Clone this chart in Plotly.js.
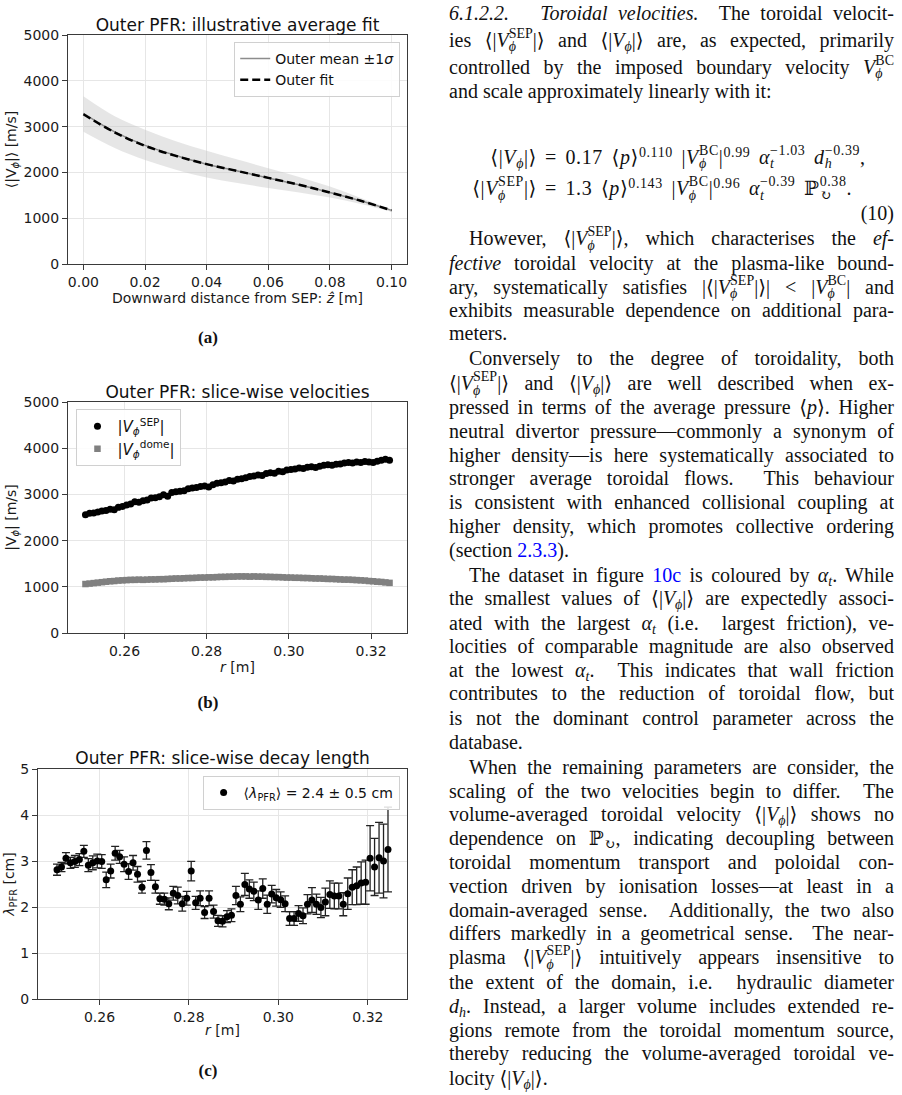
<!DOCTYPE html>
<html><head><meta charset="utf-8">
<script src="https://cdn.plot.ly/plotly-3.0.1.min.js"></script>
<style>
html,body{margin:0;padding:0;background:#fff;}
body{width:902px;height:1095px;position:relative;overflow:hidden;}
.plot{position:absolute;left:0;width:420px;height:320px;}
.cap{position:absolute;left:178px;width:60px;text-align:center;font-family:"Liberation Serif",serif;font-weight:bold;font-size:17px;line-height:20px;color:#111;}
.ln{position:absolute;left:449px;width:445px;height:22px;line-height:24px;font-family:"Liberation Serif","DejaVu Serif",serif;font-size:20px;white-space:nowrap;color:#111;}
.j{text-align:justify;text-align-last:justify;}
.ss{display:inline-block;vertical-align:-0.32em;font-size:0.7em;line-height:0.96;text-align:left;margin-top:-8px;margin-bottom:-5px;text-align-last:left;}
.ss>span{display:block;}
sub{font-size:0.7em;vertical-align:-0.25em;line-height:0;}
sup{font-size:0.7em;vertical-align:0.5em;line-height:0;}
.lk{color:#0000ff;}
.eqn{position:absolute;left:449px;width:445px;height:22px;line-height:24px;font-family:"Liberation Serif","DejaVu Serif",serif;font-size:20px;white-space:nowrap;color:#111;}
.lhs{position:absolute;right:357px;top:0;letter-spacing:0.6px;}
.rhs{position:absolute;left:96px;top:0;letter-spacing:0.6px;word-spacing:3px;}
</style></head>
<body>
<div id="pa" class="plot" style="top:0px"></div>
<div id="pb" class="plot" style="top:370px"></div>
<div id="pc" class="plot" style="top:740px"></div>
<div class="cap" style="top:328px">(a)</div>
<div class="cap" style="top:693px">(b)</div>
<div class="cap" style="top:1061px">(c)</div>
<div id="txt"></div>
<script>
// ---------- data: panel (a) ----------
const zHat = [0.00,0.01,0.02,0.03,0.04,0.05,0.06,0.07,0.08,0.09,0.10];
const fitOuter = [3270,2880,2580,2360,2180,2030,1880,1730,1560,1380,1170];
const meanOuter = [3290,2890,2590,2370,2180,2030,1880,1730,1560,1380,1170];
const upperOuter = [3660,3230,2930,2680,2470,2280,2090,1900,1690,1440,1190];
const lowerOuter = [2890,2540,2270,2060,1890,1770,1660,1560,1450,1310,1140];

// ---------- data: panels (b), (c) ----------
const rSlice = [0.2505,0.2515,0.2525,0.2535,0.2545,0.2555,0.2565,0.2575,0.2585,0.2595,
0.2605,0.2615,0.2625,0.2635,0.2645,0.2655,0.2665,0.2675,0.2685,0.2695,
0.2705,0.2715,0.2725,0.2735,0.2745,0.2755,0.2765,0.2775,0.2785,0.2795,
0.2805,0.2815,0.2825,0.2835,0.2845,0.2855,0.2865,0.2875,0.2885,0.2895,
0.2905,0.2915,0.2925,0.2935,0.2945,0.2955,0.2965,0.2975,0.2985,0.2995,
0.3005,0.3015,0.3025,0.3035,0.3045,0.3055,0.3065,0.3075,0.3085,0.3095,
0.3105,0.3115,0.3125,0.3135,0.3145,0.3155,0.3165,0.3175,0.3185,0.3195,
0.3205,0.3215,0.3225,0.3235,0.3245];
const vSep = [2560,2590,2600,2620,2640,2650,2680,2670,2720,2740,
2770,2790,2840,2830,2860,2880,2920,2930,2950,2990,
2960,3040,3060,3070,3080,3120,3140,3150,3170,3180,
3160,3210,3240,3250,3270,3300,3290,3330,3340,3360,
3390,3400,3420,3410,3450,3470,3460,3500,3490,3530,
3540,3550,3570,3560,3590,3600,3580,3610,3630,3640,
3630,3650,3660,3680,3690,3680,3700,3690,3710,3700,
3690,3720,3740,3760,3740];
const vDome = [1060,1070,1080,1090,1100,1110,1120,1125,1135,1140,
1145,1150,1150,1155,1150,1155,1160,1160,1165,1165,
1170,1175,1180,1180,1185,1190,1190,1195,1200,1200,
1205,1205,1210,1215,1215,1220,1220,1225,1225,1225,
1220,1225,1220,1220,1215,1215,1210,1210,1205,1200,
1200,1195,1195,1190,1190,1185,1180,1180,1175,1170,
1170,1165,1160,1155,1155,1150,1145,1140,1135,1125,
1120,1110,1105,1095,1085];
const lambdaPfr = [2.81,2.87,3.06,2.96,2.99,3.03,3.21,2.91,2.96,3.00,
2.99,2.59,2.78,3.17,3.09,2.93,2.77,2.96,2.71,2.43,
3.23,2.75,2.44,2.18,2.17,2.07,2.30,2.25,2.07,2.19,
2.78,2.09,2.19,1.88,2.19,1.90,1.70,1.69,1.79,1.82,
2.25,2.06,2.49,2.39,2.34,2.15,2.40,2.06,2.28,2.20,
2.16,2.07,1.75,1.75,1.86,1.81,2.06,2.15,2.06,1.99,
2.11,2.27,2.24,2.24,2.06,2.29,2.43,2.46,2.52,2.54,
3.06,2.87,3.07,3.00,3.25];
const lambdaErr = [0.12,0.10,0.12,0.12,0.13,0.13,0.13,0.14,0.15,0.15,
0.15,0.17,0.15,0.15,0.14,0.16,0.17,0.16,0.17,0.13,
0.19,0.17,0.14,0.12,0.13,0.13,0.15,0.18,0.16,0.15,
0.21,0.14,0.16,0.13,0.16,0.14,0.12,0.12,0.13,0.14,
0.20,0.16,0.24,0.20,0.20,0.20,0.21,0.20,0.19,0.18,
0.17,0.17,0.15,0.15,0.17,0.17,0.21,0.27,0.22,0.22,
0.30,0.30,0.28,0.28,0.25,0.34,0.38,0.41,0.46,0.48,
0.71,0.62,0.77,0.80,0.92];

const xTicksA = [0,0.02,0.04,0.06,0.08,0.10];
const xTicksR = [0.26,0.28,0.30,0.32];

// ---------- plotting ----------
const FONT = 'DejaVu Sans';
function ax(extra){
  return Object.assign({showline:true,mirror:true,linecolor:'#3a3a3a',linewidth:1,
    ticks:'outside',ticklen:5,tickwidth:1,tickcolor:'#3a3a3a',
    showgrid:true,gridcolor:'#e6e6e6',gridwidth:1,zeroline:false,
    tickfont:{family:FONT,size:14,color:'#1a1a1a'}},extra);
}
function ttl(t,y){return {text:t,font:{family:FONT,size:17,color:'#111'},x:0.5,xref:'paper',xanchor:'center',y:y,yref:'container',yanchor:'middle'};}
function leg(x,xa){return {x:x,xanchor:xa,y:0.97,yanchor:'top',bgcolor:'rgba(255,255,255,0.85)',bordercolor:'#d0d0d0',borderwidth:1,
    font:{family:FONT,size:14,color:'#111'},itemwidth:30,tracegroupgap:0,traceorder:'normal'};}
const cfg = {staticPlot:true,displayModeBar:false};

// (a)
Plotly.newPlot('pa',[
  {x:zHat,y:upperOuter,mode:'lines',line:{width:0,shape:'spline',color:'rgba(0,0,0,0)'},showlegend:false,hoverinfo:'skip'},
  {x:zHat,y:lowerOuter,mode:'lines',line:{width:0,shape:'spline',color:'rgba(0,0,0,0)'},fill:'tonexty',fillcolor:'rgba(200,200,200,0.45)',showlegend:false,hoverinfo:'skip'},
  {x:zHat,y:meanOuter,mode:'lines',name:'Outer mean ±1<i>σ</i>',line:{color:'#8c8c8c',width:1.5,shape:'spline'}},
  {x:zHat,y:fitOuter,mode:'lines',name:'Outer fit',line:{color:'#000',width:2.5,dash:'8px,4px',shape:'spline'}}
],{
  width:420,height:320,margin:{l:68,r:13,t:35,b:56},
  paper_bgcolor:'#fff',plot_bgcolor:'#fff',font:{family:FONT,color:'#1a1a1a'},
  title:ttl('Outer PFR: illustrative average fit',1-25/320),
  xaxis:ax({range:[-0.005,0.105],tickvals:xTicksA,tickformat:'.2f',
    title:{text:'Downward distance from SEP: <i>ẑ</i> [m]',font:{family:FONT,size:14,color:'#1a1a1a'},standoff:2}}),
  yaxis:ax({range:[0,5000],dtick:1000,tickformat:'d',
    title:{text:'⟨|V<sub><i>ϕ</i></sub>|⟩ [m/s]',font:{family:FONT,size:14,color:'#1a1a1a'},standoff:3}}),
  legend:leg(0.98,'right')
},cfg);

// (b)
Plotly.newPlot('pb',[
  {x:rSlice,y:vSep,mode:'markers',name:'|<i>V</i><sub><i>ϕ</i></sub><sup>SEP</sup>|',marker:{color:'#000',size:7,symbol:'circle'}},
  {x:rSlice,y:vDome,mode:'markers',name:'|<i>V</i><sub><i>ϕ</i></sub><sup>dome</sup>|',marker:{color:'#808080',size:6.5,symbol:'square'}}
],{
  width:420,height:320,margin:{l:68,r:13,t:32,b:57},
  paper_bgcolor:'#fff',plot_bgcolor:'#fff',font:{family:FONT,color:'#1a1a1a'},
  title:ttl('Outer PFR: slice-wise velocities',1-21.7/320),
  xaxis:ax({range:[0.24625,0.32875],tickvals:xTicksR,tickformat:'.2f',
    title:{text:'<i>r</i> [m]',font:{family:FONT,size:14,color:'#1a1a1a'},standoff:0}}),
  yaxis:ax({range:[0,5000],dtick:1000,tickformat:'d',
    title:{text:'|V<sub><i>ϕ</i></sub>| [m/s]',font:{family:FONT,size:14,color:'#1a1a1a'},standoff:3}}),
  legend:Object.assign(leg(0.025,'left'),{font:{family:FONT,size:15,color:'#111'}})
},cfg);

// (c)
Plotly.newPlot('pc',[
  {x:rSlice,y:lambdaPfr,mode:'markers',name:'⟨<i>λ</i><sub>PFR</sub>⟩ = 2.4 ± 0.5 cm',
   marker:{color:'#000',size:7,symbol:'circle'},
   error_y:{type:'data',array:lambdaErr,visible:true,color:'#222',thickness:1.3,width:4}}
],{
  width:420,height:320,margin:{l:38,r:13,t:29,b:61},
  paper_bgcolor:'#fff',plot_bgcolor:'#fff',font:{family:FONT,color:'#1a1a1a'},
  showlegend:true,
  title:ttl('Outer PFR: slice-wise decay length',1-18.3/320),
  xaxis:ax({range:[0.24625,0.32875],tickvals:xTicksR,tickformat:'.2f',
    title:{text:'<i>r</i> [m]',font:{family:FONT,size:14,color:'#1a1a1a'},standoff:1}}),
  yaxis:ax({range:[0,5],dtick:1,
    title:{text:'<i>λ</i><sub>PFR</sub> [cm]',font:{family:FONT,size:14,color:'#1a1a1a'},standoff:2}}),
  legend:leg(0.98,'right')
},cfg);

// ---------- text column ----------
function ss(sup,sub){return '<span class="ss"><span>'+sup+'</span><span>'+sub+'</span></span>';}
const PHI='<i>ϕ</i>';
const VSEP='<i>V</i>'+ss('SEP',PHI);
const VBC='<i>V</i>'+ss('BC',PHI);
const VPHI='<i>V</i><sub>'+PHI+'</sub>';
function avg(x){return '⟨|'+x+'|⟩';}
const AT='<i>α</i><sub><i>t</i></sub>';
const PCIRC='ℙ<sub>↻</sub>';

const lines = [
 [13.3,0,1,'<i>6.1.2.2.&nbsp;&nbsp; Toroidal velocities.</i>&nbsp; The toroidal velocit-'],
 [40,0,1,'ies '+avg(VSEP)+' and '+avg(VPHI)+' are, as expected, primarily'],
 [66.7,0,1,'controlled by the imposed boundary velocity '+VBC],
 [90.7,0,0,'and scale approximately linearly with it:'],
 [238.3,20,1,'However, '+avg(VSEP)+', which characterises the <i>ef-</i>'],
 [263.3,0,1,'<i>fective</i> toroidal velocity at the plasma-like bound-'],
 [286.7,0,1,'ary, systematically satisfies |'+avg(VSEP)+'| &lt; |'+VBC+'| and'],
 [310,0,1,'exhibits measurable dependence on additional para-'],
 [333.3,0,0,'meters.'],
 [358.3,20,1,'Conversely to the degree of toroidality, both'],
 [383.3,0,1,avg(VSEP)+' and '+avg(VPHI)+' are well described when ex-'],
 [406.7,0,1,'pressed in terms of the average pressure ⟨<i>p</i>⟩. Higher'],
 [430.7,0,1,'neutral divertor pressure—commonly a synonym of'],
 [455,0,1,'higher density—is here systematically associated to'],
 [477.7,0,1,'stronger average toroidal flows.&nbsp; This behaviour'],
 [501.7,0,1,'is consistent with enhanced collisional coupling at'],
 [525.7,0,1,'higher density, which promotes collective ordering'],
 [550,0,0,'(section <span class="lk">2.3.3</span>).'],
 [575,20,1,'The dataset in figure <span class="lk">10c</span> is coloured by '+AT+'. While'],
 [598.3,0,1,'the smallest values of '+avg(VPHI)+' are expectedly associ-'],
 [622.7,0,1,'ated with the largest '+AT+' (i.e.&nbsp; largest friction), ve-'],
 [646,0,1,'locities of comparable magnitude are also observed'],
 [670,0,1,'at the lowest '+AT+'.&nbsp; This indicates that wall friction'],
 [693.3,0,1,'contributes to the reduction of toroidal flow, but'],
 [718.3,0,1,'is not the dominant control parameter across the'],
 [741.7,0,0,'database.'],
 [766.7,20,1,'When the remaining parameters are consider, the'],
 [790.7,0,1,'scaling of the two velocities begin to differ.&nbsp; The'],
 [814.3,0,1,'volume-averaged toroidal velocity '+avg(VPHI)+' shows no'],
 [838.3,0,1,'dependence on '+PCIRC+', indicating decoupling between'],
 [862.3,0,1,'toroidal momentum transport and poloidal con-'],
 [886,0,1,'vection driven by ionisation losses—at least in a'],
 [910,0,1,'domain-averaged sense.&nbsp; Additionally, the two also'],
 [933.3,0,1,'differs markedly in a geometrical sense.&nbsp; The near-'],
 [957.3,0,1,'plasma '+avg(VSEP)+' intuitively appears insensitive to'],
 [981.7,0,1,'the extent of the domain, i.e.&nbsp; hydraulic diameter'],
 [1006,0,1,'<i>d</i><sub><i>h</i></sub>. Instead, a larger volume includes extended re-'],
 [1030,0,1,'gions remote from the toroidal momentum source,'],
 [1053.3,0,1,'thereby reducing the volume-averaged toroidal ve-'],
 [1078.3,0,0,'locity '+avg(VPHI)+'.']
];
let html='';
for(const [y,ind,j,h] of lines){
  html+='<div class="ln'+(j?' j':'')+'" style="top:'+(y-12)+'px;left:'+(449+ind)+'px;width:'+(445-ind)+'px">'+h+'</div>';
}
// equations (aligned at "=")
html+='<div class="eqn" style="top:'+(156.7-12)+'px"><span class="lhs">'+avg(VPHI)+'</span><span class="rhs">= 0.17 ⟨<i>p</i>⟩<sup>0.110</sup> |'+VBC+'|<sup>0.99</sup> <i>α</i>'+ss('−1.03','<i>t</i>')+' <i>d</i>'+ss('−0.39','<i>h</i>')+',</span></div>';
html+='<div class="eqn" style="top:'+(188.3-12)+'px"><span class="lhs">'+avg(VSEP)+'</span><span class="rhs">= 1.3 ⟨<i>p</i>⟩<sup>0.143</sup> |'+VBC+'|<sup>0.96</sup> <i>α</i>'+ss('−0.39','<i>t</i>')+' ℙ'+ss('0.38','↻')+'.</span></div>';
html+='<div class="ln" style="top:'+(213.3-12)+'px;text-align:right">(10)</div>';
document.getElementById('txt').innerHTML=html;
</script>
</body></html>
